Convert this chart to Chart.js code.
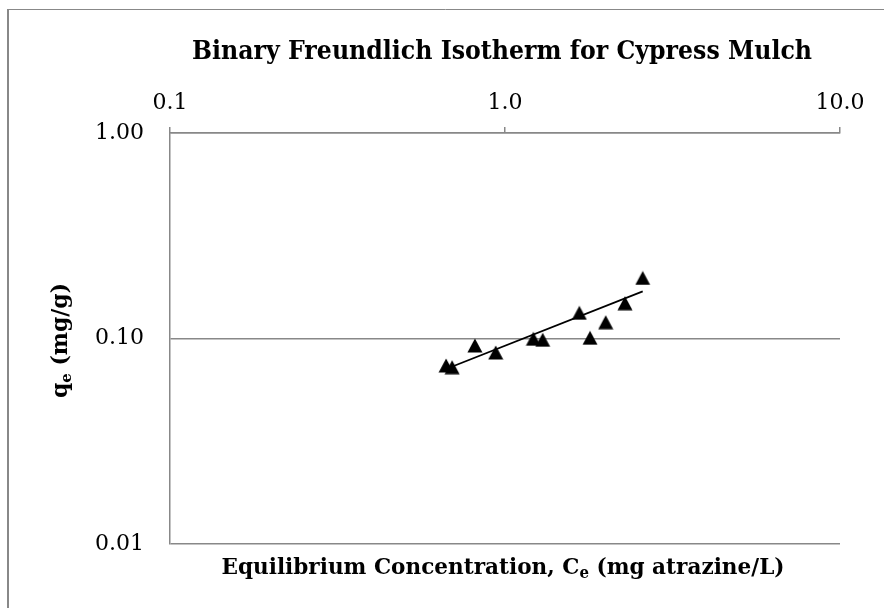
<!DOCTYPE html>
<html>
<head>
<meta charset="utf-8">
<title>Binary Freundlich Isotherm for Cypress Mulch</title>
<script src="https://cdn.jsdelivr.net/npm/chart.js@4/dist/chart.umd.min.js"></script>
<style>
  html, body { margin: 0; padding: 0; background: #fff; }
  canvas { display: block; }
</style>
</head>
<body>
<canvas id="isotherm" width="884" height="608"></canvas>
<script>
// Measured equilibrium concentration (mg atrazine/L) and uptake (mg/g)
const ceValues = [0.667, 0.695, 0.813, 0.938, 1.215, 1.296, 1.667, 1.794, 1.998, 2.281, 2.577];
const qeValues = [0.0739, 0.0725, 0.0925, 0.0855, 0.0997, 0.0986, 0.1334, 0.1008, 0.120, 0.1485, 0.197];

// Power-law trendline end points
const fitCe = [0.667, 2.577];
const fitQe = [0.0711, 0.1695];

const xTickValues = [0.1, 1, 10];
const xTickLabels = ['0.1', '1.0', '10.0'];
const yTickValues = [0.01, 0.1, 1];
const yTickLabels = ['0.01', '0.10', '1.00'];

const chartTitle = [{ text: 'Binary Freundlich Isotherm for Cypress Mulch' }];
const xTitle = [
    { text: 'Equilibrium Concentration, C' },
    { text: 'e', sub: true },
    { text: ' (mg atrazine/L)' }
];
const yTitle = [
    { text: 'q' },
    { text: 'e', sub: true },
    { text: ' (mg/g)' }
];

const serif = '"DejaVu Serif", "Liberation Serif", serif';
const axisGray = '#888888';

// filled triangle marker, centred on its bounding box
function makeTriangle() {
    const c = document.createElement('canvas');
    c.width = 16;
    c.height = 15;
    const g = c.getContext('2d');
    g.fillStyle = '#000';
    g.beginPath();
    g.moveTo(8, 0.5);
    g.lineTo(15.5, 14.5);
    g.lineTo(0.5, 14.5);
    g.closePath();
    g.fill();
    return c;
}

// draws bold text runs (with subscripts) centred on cx, squeezed to fit a width
function drawRuns(ctx, runs, cx, baseY, maxWidth, size) {
    const subSize = Math.round(size * 0.68);
    const widths = runs.map(r => {
        ctx.font = `bold ${r.sub ? subSize : size}px ${serif}`;
        return ctx.measureText(r.text).width;
    });
    const total = widths.reduce((a, b) => a + b, 0);
    const sx = Math.min(1, maxWidth / total);
    ctx.save();
    ctx.translate(cx, baseY);
    ctx.scale(sx, 1);
    ctx.fillStyle = '#000';
    ctx.textBaseline = 'alphabetic';
    ctx.textAlign = 'left';
    let x = -total / 2;
    runs.forEach((r, i) => {
        ctx.font = `bold ${r.sub ? subSize : size}px ${serif}`;
        ctx.fillText(r.text, x, r.sub ? size * 0.2 : 0);
        x += widths[i];
    });
    ctx.restore();
}

const frameAndTitles = {
    id: 'frameAndTitles',
    beforeDraw(chart) {
        const ctx = chart.ctx;
        ctx.save();
        ctx.fillStyle = '#fff';
        ctx.fillRect(0, 0, chart.width, chart.height);
        ctx.strokeStyle = axisGray;
        ctx.lineWidth = 2;
        ctx.beginPath();
        ctx.moveTo(8, 9);
        ctx.lineTo(8, chart.height);
        ctx.stroke();
        ctx.lineWidth = 1;
        ctx.beginPath();
        ctx.moveTo(7, 9.5);
        ctx.lineTo(chart.width, 9.5);
        ctx.stroke();
        ctx.restore();
    },
    afterDraw(chart) {
        const ctx = chart.ctx;
        drawRuns(ctx, chartTitle, 502, 58.5, 620, 26);
        drawRuns(ctx, xTitle, 503, 573.5, 563, 23);
        ctx.save();
        ctx.translate(67, 340.5);
        ctx.rotate(-Math.PI / 2);
        drawRuns(ctx, yTitle, 0, 0, 115, 22);
        ctx.restore();
    }
};

const points = ceValues.map((x, i) => ({ x: x, y: qeValues[i] }));
const fitLine = fitCe.map((x, i) => ({ x: x, y: fitQe[i] }));

new Chart(document.getElementById('isotherm'), {
    type: 'scatter',
    data: {
        datasets: [{
            label: 'Cypress mulch',
            data: points,
            pointStyle: makeTriangle(),
            pointRadius: 8,
            backgroundColor: '#000',
            borderColor: '#000',
            order: 0
        }, {
            label: 'Power fit',
            type: 'line',
            data: fitLine,
            borderColor: '#000',
            borderWidth: 1.75,
            pointRadius: 0,
            fill: false,
            tension: 0,
            order: 1
        }]
    },
    options: {
        responsive: false,
        animation: false,
        events: [],
        layout: { padding: { top: 0, right: 44, bottom: 64, left: 0 } },
        plugins: {
            legend: { display: false },
            tooltip: { enabled: false }
        },
        scales: {
            x: {
                type: 'logarithmic',
                position: 'top',
                min: 0.1,
                max: 10,
                afterBuildTicks: s => { s.ticks = xTickValues.map(v => ({ value: v })); },
                afterFit: s => { s.height = 133; },
                ticks: {
                    callback: (v, i) => xTickLabels[i],
                    font: { family: serif, size: 22 },
                    color: '#000',
                    padding: 11,
                    maxRotation: 0,
                    autoSkip: false
                },
                grid: { drawOnChartArea: false, drawTicks: true, tickLength: 6, color: axisGray, lineWidth: 1.5 },
                border: { display: true, color: axisGray, width: 1.5 }
            },
            y: {
                type: 'logarithmic',
                min: 0.01,
                max: 1,
                afterBuildTicks: s => { s.ticks = yTickValues.map(v => ({ value: v })); },
                afterFit: s => { s.width = 170; },
                ticks: {
                    callback: (v, i) => yTickLabels[i],
                    font: { family: serif, size: 22 },
                    color: '#000',
                    padding: 26,
                    autoSkip: false
                },
                grid: { drawOnChartArea: true, drawTicks: false, color: axisGray, lineWidth: 1.5 },
                border: { display: true, color: axisGray, width: 1.5 }
            }
        }
    },
    plugins: [frameAndTitles]
});
</script>
</body>
</html>
